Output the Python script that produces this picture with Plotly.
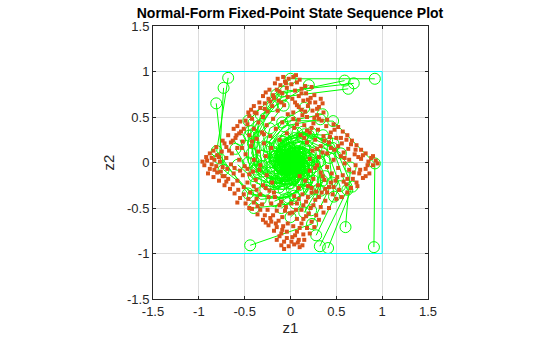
import plotly.graph_objects as go

# Quantized state cloud (z1, z2), one list per quadrant plus a scattered fill
states_q1 = [
    (0.03, 0.94), (0.07, 0.88), (0.01, 0.86), (0.12, 0.81), (0.05, 0.79), (0.17, 0.76), (0.09, 0.73),
    (0.22, 0.71), (0.02, 0.70), (0.14, 0.68), (0.27, 0.66), (0.19, 0.62), (0.07, 0.63), (0.31, 0.61),
    (0.24, 0.57), (0.12, 0.58), (0.36, 0.55), (0.03, 0.55), (0.29, 0.52), (0.18, 0.50), (0.09, 0.47),
    (0.34, 0.46), (0.25, 0.43), (0.15, 0.41), (0.39, 0.40), (0.52, 0.39), (0.04, 0.38), (0.30, 0.36),
    (0.57, 0.34), (0.44, 0.33), (0.21, 0.33), (0.11, 0.30), (0.36, 0.29), (0.62, 0.30), (0.50, 0.27),
    (0.27, 0.25), (0.67, 0.24), (0.42, 0.22), (0.18, 0.22), (0.56, 0.21), (0.72, 0.19), (0.33, 0.18),
    (0.63, 0.15), (0.48, 0.14), (0.77, 0.14), (0.24, 0.13), (0.40, 0.10), (0.70, 0.09), (0.82, 0.10),
    (0.55, 0.07), (0.31, 0.06), (0.88, 0.05), (0.64, 0.03), (0.47, 0.03), (0.93, 0.02), (0.77, 0.04),
    (0.21, 0.04), (0.10, 0.91), (0.16, 0.84), (0.26, 0.74), (0.35, 0.65), (0.05, 0.66), (0.21, 0.66),
    (0.31, 0.48), (0.13, 0.52), (0.07, 0.42), (0.23, 0.38), (0.48, 0.36), (0.61, 0.25), (0.37, 0.24),
    (0.15, 0.27), (0.52, 0.18), (0.29, 0.15), (0.74, 0.06), (0.58, 0.11), (0.85, 0.01),
]
states_q2 = [
    (-0.02, 0.92), (-0.06, 0.89), (-0.11, 0.85), (-0.04, 0.82), (-0.15, 0.80), (-0.09, 0.76), (-0.19, 0.74),
    (-0.03, 0.72), (-0.24, 0.70), (-0.13, 0.68), (-0.28, 0.65), (-0.20, 0.62), (-0.07, 0.63), (-0.33, 0.60),
    (-0.25, 0.56), (-0.14, 0.57), (-0.37, 0.54), (-0.03, 0.53), (-0.30, 0.50), (-0.42, 0.48), (-0.19, 0.48),
    (-0.35, 0.44), (-0.47, 0.42), (-0.09, 0.44), (-0.26, 0.41), (-0.51, 0.37), (-0.40, 0.37), (-0.16, 0.37),
    (-0.56, 0.32), (-0.31, 0.33), (-0.45, 0.30), (-0.04, 0.32), (-0.60, 0.27), (-0.22, 0.29), (-0.37, 0.26),
    (-0.65, 0.22), (-0.52, 0.23), (-0.12, 0.25), (-0.29, 0.21), (-0.70, 0.17), (-0.43, 0.18), (-0.58, 0.16),
    (-0.21, 0.16), (-0.75, 0.12), (-0.35, 0.12), (-0.64, 0.10), (-0.49, 0.09), (-0.80, 0.08), (-0.27, 0.07),
    (-0.86, 0.05), (-0.70, 0.05), (-0.56, 0.03), (-0.91, 0.02), (-0.40, 0.03), (-0.77, 0.01), (-0.96, 0.01),
    (-0.08, 0.94), (-0.17, 0.87), (-0.23, 0.80), (-0.30, 0.73), (-0.40, 0.62), (-0.46, 0.55), (-0.55, 0.45),
    (-0.62, 0.37), (-0.68, 0.30), (-0.74, 0.24), (-0.81, 0.17), (-0.88, 0.10), (-0.12, 0.78), (-0.22, 0.67),
    (-0.34, 0.66), (-0.45, 0.51), (-0.58, 0.40), (-0.72, 0.21), (-0.84, 0.13),
]
states_q3 = [
    (-0.94, -0.03), (-0.88, -0.07), (-0.81, -0.04), (-0.90, -0.12), (-0.76, -0.10), (-0.84, -0.16), (-0.69, -0.07),
    (-0.78, -0.20), (-0.62, -0.12), (-0.72, -0.25), (-0.55, -0.09), (-0.66, -0.29), (-0.58, -0.20), (-0.45, -0.13),
    (-0.61, -0.34), (-0.51, -0.27), (-0.38, -0.19), (-0.55, -0.39), (-0.44, -0.33), (-0.30, -0.25), (-0.49, -0.45),
    (-0.37, -0.40), (-0.23, -0.31), (-0.42, -0.51), (-0.31, -0.46), (-0.17, -0.38), (-0.36, -0.57), (-0.25, -0.52),
    (-0.10, -0.43), (-0.30, -0.63), (-0.19, -0.58), (-0.05, -0.49), (-0.24, -0.69), (-0.13, -0.64), (-0.01, -0.56),
    (-0.18, -0.75), (-0.08, -0.70), (-0.12, -0.81), (-0.04, -0.76), (-0.07, -0.87), (-0.02, -0.92),
    (-0.72, -0.15), (-0.50, -0.04), (-0.34, -0.08), (-0.26, -0.14), (-0.65, -0.02), (-0.40, -0.26), (-0.57, -0.30),
    (-0.46, -0.40), (-0.33, -0.35), (-0.21, -0.45), (-0.28, -0.58), (-0.15, -0.53), (-0.21, -0.65), (-0.09, -0.60),
    (-0.15, -0.71), (-0.03, -0.67), (-0.10, -0.78), (-0.20, -0.22),
]
states_q4 = [
    (0.04, -0.90), (0.09, -0.85), (0.02, -0.82), (0.14, -0.79), (0.07, -0.76), (0.18, -0.72), (0.03, -0.70),
    (0.12, -0.67), (0.23, -0.65), (0.07, -0.62), (0.17, -0.59), (0.28, -0.58), (0.02, -0.55), (0.12, -0.52),
    (0.22, -0.50), (0.33, -0.49), (0.07, -0.45), (0.17, -0.43), (0.27, -0.41), (0.38, -0.42), (0.04, -0.37),
    (0.13, -0.35), (0.23, -0.33), (0.34, -0.33), (0.46, -0.35), (0.09, -0.28), (0.19, -0.26), (0.30, -0.25),
    (0.42, -0.27), (0.53, -0.30), (0.25, -0.18), (0.37, -0.19), (0.49, -0.20), (0.61, -0.24), (0.21, -0.09),
    (0.33, -0.11), (0.45, -0.12), (0.57, -0.14), (0.68, -0.18), (0.29, -0.03), (0.40, -0.05), (0.52, -0.06),
    (0.64, -0.08), (0.75, -0.12), (0.59, -0.01), (0.71, -0.03), (0.82, -0.07), (0.90, -0.03), (0.79, -0.17),
    (0.66, -0.28), (0.10, -0.93), (0.15, -0.85), (0.21, -0.78), (0.26, -0.71), (0.31, -0.63), (0.36, -0.55),
    (0.42, -0.50), (0.56, -0.38), (0.72, -0.22), (0.86, -0.12), (0.16, -0.20), (0.10, -0.15), (0.28, -0.32),
    (0.40, -0.33), (0.47, -0.27), (0.58, -0.21), (0.19, -0.38), (0.09, -0.40),
]
states_fill = [
    (-0.83, 0.03), (-0.74, -0.05), (-0.67, 0.13), (-0.61, -0.06), (-0.53, 0.16), (-0.47, -0.07), (-0.42, 0.23),
    (-0.33, -0.03), (-0.29, 0.31), (-0.24, -0.38), (-0.36, -0.48), (-0.47, -0.22), (-0.58, -0.44), (-0.68, -0.18),
    (-0.80, -0.11), (-0.92, 0.06), (-0.86, -0.02), (-0.63, 0.24), (-0.54, 0.34), (-0.49, 0.46), (-0.39, 0.55),
    (-0.28, 0.59), (-0.18, 0.71), (-0.10, 0.66), (-0.05, 0.87), (-0.14, 0.92), (-0.27, 0.77), (-0.43, 0.58),
    (-0.59, 0.30), (-0.78, 0.06),
    (0.06, 0.96), (0.12, 0.76), (0.19, 0.69), (0.29, 0.59), (0.40, 0.47), (0.47, 0.42), (0.55, 0.27),
    (0.66, 0.20), (0.79, 0.08), (0.90, 0.07), (0.71, 0.14), (0.59, 0.05), (0.44, 0.16), (0.35, 0.11),
    (0.26, 0.49), (0.16, 0.56), (0.09, 0.61), (0.03, 0.48), (0.23, 0.83), (0.33, 0.70), (0.18, 0.35), (0.43, 0.28),
    (0.95, -0.01), (0.84, -0.03), (0.76, -0.08), (0.69, -0.11), (0.62, -0.18), (0.51, -0.16), (0.44, -0.22),
    (0.35, -0.15), (0.27, -0.06), (0.38, -0.29), (0.31, -0.38), (0.25, -0.47), (0.20, -0.56), (0.14, -0.62),
    (0.10, -0.72), (0.05, -0.80), (0.01, -0.87), (0.06, -0.52), (0.01, -0.45), (0.14, -0.47), (0.23, -0.28),
    (0.50, -0.40), (0.62, -0.33), (0.73, -0.26), (0.82, -0.15),
    (-0.04, -0.83), (-0.09, -0.74), (-0.16, -0.67), (-0.22, -0.61), (-0.27, -0.66), (-0.33, -0.52), (-0.40, -0.44),
    (-0.45, -0.50), (-0.51, -0.35), (-0.63, -0.24), (-0.70, -0.21), (-0.74, -0.15), (-0.83, -0.08), (-0.06, -0.53),
    (-0.12, -0.47), (-0.18, -0.33), (-0.27, -0.28), (-0.37, -0.30), (-0.52, -0.14), (-0.41, -0.10), (-0.07, -0.95),
    (0.08, -0.88), (0.13, -0.91), (-0.15, -0.85), (-0.10, -0.91),
]

# State sequences z(k), one per initial condition
traj_01 = [(0.92, 0.92), (0.00, 0.92), (-0.46, 0.46), (-0.46, 0.00), (-0.23, -0.23), (0.00, -0.23),
           (0.115, -0.115), (0.115, 0.00), (0.058, 0.058), (0.00, 0.058), (-0.029, 0.029), (-0.029, 0.00)]
traj_02 = [(0.59, 0.90), (-0.155, 0.745), (-0.45, 0.295), (-0.373, -0.078), (-0.148, -0.225),
           (0.039, -0.186), (0.113, -0.074), (0.093, 0.020), (0.037, 0.056), (-0.010, 0.047), (-0.028, 0.019)]
traj_03 = [(0.69, 0.87), (-0.09, 0.78), (-0.435, 0.345), (-0.39, -0.045), (-0.173, -0.218),
           (0.023, -0.195), (0.109, -0.086), (0.098, 0.012), (0.043, 0.055), (-0.006, 0.049), (-0.028, 0.022)]
traj_04 = [(0.63, 0.81), (-0.09, 0.72), (-0.405, 0.315), (-0.36, -0.045), (-0.158, -0.203),
           (0.023, -0.18), (0.101, -0.079), (0.09, 0.011), (0.040, 0.051), (-0.006, 0.045)]
traj_05 = [(-0.68, 0.93), (-0.805, 0.125), (-0.465, -0.34), (-0.063, -0.403), (0.17, -0.233),
           (0.201, -0.031), (0.116, 0.085), (0.016, 0.101), (-0.043, 0.058), (-0.05, 0.008), (-0.029, -0.021)]
traj_06 = [(-0.73, 0.82), (-0.775, 0.045), (-0.41, -0.365), (-0.023, -0.388), (0.183, -0.205),
           (0.194, -0.011), (0.103, 0.092), (0.006, 0.097), (-0.046, 0.051), (-0.049, 0.003)]
traj_07 = [(-0.81, 0.65), (-0.73, -0.08), (-0.325, -0.405), (0.04, -0.365), (0.203, -0.163),
           (0.183, 0.02), (0.081, 0.101), (-0.01, 0.091), (-0.05, 0.041), (-0.045, -0.005)]
traj_08 = [(0.91, -0.93), (0.92, -0.01), (0.465, 0.455), (0.005, 0.46), (-0.228, 0.233),
           (-0.23, 0.003), (-0.116, -0.114), (-0.001, -0.115), (0.057, -0.058), (0.058, 0.00), (0.029, 0.029)]
traj_09 = [(0.60, -0.71), (0.655, -0.055), (0.355, 0.30), (0.028, 0.328), (-0.15, 0.178),
           (-0.164, 0.014), (-0.089, -0.075), (-0.007, -0.082), (0.038, -0.045), (0.041, -0.004)]
traj_10 = [(0.41, -0.94), (0.675, -0.265), (0.47, 0.205), (0.133, 0.338), (-0.103, 0.235),
           (-0.169, 0.066), (-0.118, -0.052), (-0.033, -0.085), (0.026, -0.059), (0.043, -0.017)]
traj_11 = [(0.32, -0.92), (0.62, -0.30), (0.46, 0.16), (0.15, 0.31), (-0.08, 0.23),
           (-0.155, 0.075), (-0.115, -0.04), (-0.038, -0.078), (0.02, -0.058), (0.039, -0.019)]
traj_12 = [(0.28, -0.80), (0.54, -0.26), (0.40, 0.14), (0.13, 0.27), (-0.07, 0.20),
           (-0.135, 0.065), (-0.10, -0.035), (-0.033, -0.068), (0.018, -0.05)]
traj_13 = [(-0.44, -0.91), (0.235, -0.675), (0.455, -0.22), (0.338, 0.118), (0.11, 0.228),
           (-0.059, 0.169), (-0.114, 0.055), (-0.084, -0.029), (-0.028, -0.057), (0.015, -0.042)]
traj_14 = [(0.35, 0.53), (-0.09, 0.44), (-0.265, 0.175), (-0.22, -0.045), (-0.088, -0.133),
           (0.023, -0.11), (0.066, -0.044), (0.055, 0.011), (0.022, 0.033)]
traj_15 = [(0.33, -0.31), (0.32, 0.01), (0.155, 0.165), (-0.005, 0.16), (-0.083, 0.078),
           (-0.08, -0.003), (-0.039, -0.041), (0.001, -0.04)]
traj_16 = [(-0.20, 0.62), (-0.41, 0.21), (-0.31, -0.10), (-0.105, -0.205), (0.05, -0.155),
           (0.103, -0.053), (0.078, 0.025), (0.026, 0.051), (-0.013, 0.039)]
traj_17 = [(0.15, -0.55), (0.35, -0.20), (0.275, 0.075), (0.10, 0.175), (-0.038, 0.138),
           (-0.088, 0.05), (-0.069, -0.019), (-0.025, -0.044)]
traj_18 = [(-0.55, 0.25), (-0.40, -0.15), (-0.125, -0.275), (0.075, -0.20), (0.138, -0.063),
           (0.10, 0.038), (0.031, 0.069), (-0.019, 0.05)]
traj_19 = [(0.15, 0.60), (-0.225, 0.375), (-0.30, 0.075), (-0.188, -0.113),
           (-0.038, -0.15), (0.056, -0.094), (0.075, -0.019), (0.047, 0.028)]
traj_20 = [(-0.075, 0.625), (-0.35, 0.275), (-0.313, -0.038), (-0.138, -0.175),
           (0.019, -0.156), (0.088, -0.069), (0.078, 0.009), (0.035, 0.044)]
traj_21 = [(-0.575, -0.025), (-0.275, -0.30), (0.013, -0.288), (0.15, -0.138),
           (0.144, 0.006), (0.069, 0.075), (-0.003, 0.072), (-0.038, 0.035)]
traj_22 = [(-0.175, -0.425), (0.125, -0.30), (0.213, -0.088), (0.15, 0.063),
           (0.044, 0.106), (-0.031, 0.075), (-0.053, 0.022)]
traj_23 = [(0.225, -0.525), (0.375, -0.15), (0.263, 0.113), (0.075, 0.188),
           (-0.056, 0.131), (-0.094, 0.038), (-0.066, -0.028), (-0.019, -0.047)]
traj_24 = [(0.475, -0.375), (0.425, 0.05), (0.188, 0.238), (-0.025, 0.213), (-0.119, 0.094),
           (-0.106, -0.012), (-0.047, -0.059), (0.006, -0.053)]
traj_25 = [(0.325, 0.475), (-0.075, 0.40), (-0.238, 0.163), (-0.20, -0.038),
           (-0.081, -0.119), (0.019, -0.10), (0.059, -0.041), (0.05, 0.009)]
traj_26 = [(-0.60, 0.15), (-0.375, -0.225), (-0.075, -0.30), (0.113, -0.188),
           (0.15, -0.038), (0.094, 0.056), (0.019, 0.075), (-0.028, 0.047)]
traj_27 = [(0.20, 0.85), (-0.325, 0.525), (-0.425, 0.10), (-0.263, -0.163), (-0.05, -0.213),
           (0.081, -0.131), (0.106, -0.025), (0.066, 0.041), (0.013, 0.054)]
traj_28 = [(-0.10, -0.50), (0.20, -0.30), (0.25, -0.05), (0.15, 0.10),
           (0.025, 0.125), (-0.05, 0.075), (-0.063, 0.013), (-0.038, -0.025)]
traj_29 = [(0.55, 0.10), (0.225, 0.325), (-0.05, 0.275), (-0.163, 0.113),
           (-0.138, -0.025), (-0.056, -0.081), (0.013, -0.069), (0.041, -0.028)]
traj_30 = [(0.00, -0.60), (0.30, -0.30), (0.30, 0.00), (0.15, 0.15), (0.00, 0.15),
           (-0.075, 0.075), (-0.075, 0.00), (-0.038, -0.038)]
traj_31 = [(-0.35, 0.40), (-0.375, 0.025), (-0.20, -0.175), (-0.013, -0.188), (0.088, -0.10),
           (0.094, -0.006), (0.05, 0.044), (0.003, 0.047)]
traj_32 = [(0.40, 0.25), (0.075, 0.325), (-0.125, 0.20), (-0.163, 0.038), (-0.10, -0.063),
           (-0.019, -0.081), (0.031, -0.05), (0.041, -0.009)]
traj_33 = [(-0.40, -0.50), (0.05, -0.45), (0.25, -0.20), (0.225, 0.025),
           (0.10, 0.125), (-0.013, 0.113), (-0.063, 0.05), (-0.056, -0.006)]
traj_34 = [(0.20, 0.30), (-0.05, 0.25), (-0.15, 0.10), (-0.125, -0.025), (-0.05, -0.075),
           (0.013, -0.063), (0.038, -0.025)]

# Unit square bounding the initial conditions
box_z1 = [-1, 1, 1, -1, -1]
box_z2 = [-1, -1, 1, 1, -1]

tick_vals = [-1.5, -1, -0.5, 0, 0.5, 1, 1.5]
tick_text = ["-1.5", "-1", "-0.5", "0", "0.5", "1", "1.5"]

FONT = "Liberation Sans, Arial, sans-serif"

fig = go.Figure()

trajectories = [traj_01, traj_02, traj_03, traj_04, traj_05, traj_06, traj_07, traj_08, traj_09,
                traj_10, traj_11, traj_12, traj_13, traj_14, traj_15, traj_16, traj_17, traj_18,
                traj_19, traj_20, traj_21, traj_22, traj_23, traj_24, traj_25, traj_26, traj_27,
                traj_28, traj_29, traj_30, traj_31, traj_32, traj_33, traj_34]
for traj in trajectories:
    fig.add_trace(go.Scatter(
        x=[p[0] for p in traj], y=[p[1] for p in traj],
        mode="lines+markers",
        line=dict(color="#00FF00", width=1),
        marker=dict(symbol="circle-open", size=11, color="#00FF00", line=dict(width=1)),
        showlegend=False, hoverinfo="skip",
    ))

cloud = states_q1 + states_q2 + states_q3 + states_q4 + states_fill
fig.add_trace(go.Scatter(
    x=[p[0] for p in cloud], y=[p[1] for p in cloud],
    mode="markers",
    marker=dict(symbol="square", size=4, color="#D95319", line=dict(width=0)),
    showlegend=False, hoverinfo="skip",
))

fig.add_trace(go.Scatter(
    x=box_z1, y=box_z2, mode="lines",
    line=dict(color="#00FFFF", width=1),
    showlegend=False, hoverinfo="skip",
))

axis_common = dict(
    range=[-1.5, 1.5], tickvals=tick_vals, ticktext=tick_text, automargin=False,
    showgrid=True, gridcolor="#DCDCDC", gridwidth=1,
    zeroline=False, showline=True, linecolor="#262626", linewidth=1,
    mirror="ticks", ticks="inside", ticklen=3, tickcolor="#262626",
    tickfont=dict(family=FONT, size=13, color="#262626"),
)

fig.update_layout(
    width=560, height=337,
    margin=dict(l=153, r=132, t=26, b=38),
    paper_bgcolor="white", plot_bgcolor="white",
    title=dict(
        text="<b>Normal-Form Fixed-Point State Sequence Plot</b>",
        x=290 / 560, xanchor="center", y=1 - 13 / 337, yanchor="middle",
        font=dict(family=FONT, size=14, color="#000000"),
    ),
    xaxis=dict(**axis_common, title=dict(text="z1", standoff=2,
               font=dict(family=FONT, size=15, color="#262626"))),
    yaxis=dict(**axis_common, title=dict(text="z2", standoff=8,
               font=dict(family=FONT, size=15, color="#262626"))),
)

fig.write_html("out.html")
